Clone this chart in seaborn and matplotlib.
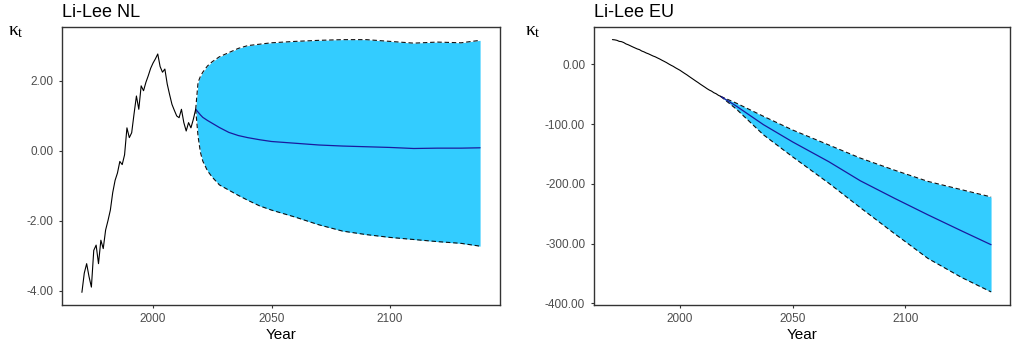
import numpy as np
import pandas as pd
import matplotlib
matplotlib.use("Agg")
import matplotlib.pyplot as plt
import seaborn as sns

# ---------------- data ----------------
hist_years = list(range(1970, 2019))

nl_hist = [-4.05, -3.50, -3.23, -3.60, -3.90, -2.85, -2.70, -3.23, -2.56, -2.80,
           -2.27, -2.00, -1.70, -1.20, -0.85, -0.64, -0.31, -0.40, -0.12, 0.65,
           0.37, 0.51, 1.05, 1.56, 1.18, 1.85, 1.71, 1.95, 2.14, 2.35,
           2.50, 2.62, 2.76, 2.40, 2.24, 2.33, 1.90, 1.60, 1.32, 1.15,
           0.99, 0.94, 1.18, 0.80, 0.56, 0.80, 0.65, 0.89, 1.18]

nl_fc_years = [2018, 2019, 2020, 2021, 2023, 2025, 2028, 2032, 2036, 2040, 2045,
               2050, 2060, 2070, 2080, 2090, 2100, 2110, 2120, 2130, 2138]
nl_fc_mean = [1.18, 1.10, 1.02, 0.95, 0.86, 0.78, 0.66, 0.52, 0.43, 0.37, 0.31,
              0.26, 0.21, 0.16, 0.13, 0.11, 0.09, 0.06, 0.07, 0.07, 0.08]
nl_fc_upper = [1.18, 1.95, 2.12, 2.24, 2.42, 2.54, 2.68, 2.80, 2.92, 3.00, 3.04,
               3.08, 3.12, 3.15, 3.17, 3.17, 3.12, 3.07, 3.10, 3.08, 3.15]
nl_fc_lower = [1.18, 0.41, -0.05, -0.30, -0.58, -0.76, -0.98, -1.13, -1.28, -1.42, -1.58,
               -1.70, -1.90, -2.12, -2.30, -2.40, -2.48, -2.54, -2.60, -2.65, -2.73]

eu_hist = [41.4, 41.0, 40.2, 38.5, 38.0, 36.5, 34.2, 32.8, 31.0, 29.2,
           27.5, 25.8, 24.6, 22.3, 20.9, 19.0, 17.6, 15.8, 14.0, 12.6,
           10.7, 8.9, 6.8, 4.9, 2.9, 0.6, -1.5, -3.4, -5.8, -7.9,
           -10.0, -12.6, -15.1, -17.5, -20.2, -22.8, -25.4, -28.0, -30.5, -33.2,
           -35.7, -38.2, -40.8, -43.1, -44.9, -47.5, -49.2, -51.8, -53.6]

eu_fc_years = [2018, 2025, 2037, 2050, 2066, 2080, 2095, 2110, 2125, 2138]
eu_fc_mean = [-53.6, -70, -101, -130, -163, -195, -224, -252, -279, -302]
eu_fc_upper = [-53.6, -65, -87, -110, -135, -157, -177, -196, -210, -222]
eu_fc_lower = [-53.6, -75, -118, -155, -199, -240, -283, -325, -357, -381]

panels = [
    ("Li-Lee NL", nl_hist, nl_fc_years, nl_fc_mean, nl_fc_lower, nl_fc_upper,
     [-4, -2, 0, 2]),
    ("Li-Lee EU", eu_hist, eu_fc_years, eu_fc_mean, eu_fc_lower, eu_fc_upper,
     [-400, -300, -200, -100, 0]),
]

# ---------------- style ----------------
sns.set_theme(style="white")
plt.rcParams["font.family"] = ["Liberation Sans", "DejaVu Sans"]
plt.rcParams["mathtext.fontset"] = "custom"
plt.rcParams["mathtext.rm"] = "Liberation Serif"
plt.rcParams["mathtext.it"] = "Liberation Serif"

W, H = 1014, 349
fig = plt.figure(figsize=(W / 100, H / 100), dpi=100)
rects = [(62, 27, 500, 305), (593.5, 27, 1010, 304.5)]
klabel_x = [8, 525]

FILL = "#33CCFF"
GREY = "#4D4D4D"

for (title, hist, fy, fm, fl, fu, yticks), (x0, y0, x1, y1), kx in zip(panels, rects, klabel_x):
    ax = fig.add_axes([x0 / W, 1 - y1 / H, (x1 - x0) / W, (y1 - y0) / H])
    hdf = pd.DataFrame({"Year": hist_years, "kt": hist})
    fdf = pd.DataFrame({"Year": fy, "mean": fm, "lower": fl, "upper": fu})

    ax.fill_between(fdf["Year"], fdf["lower"], fdf["upper"], color=FILL, lw=0, zorder=1)
    sns.lineplot(data=fdf, x="Year", y="upper", ax=ax, color="#111111", lw=0.8,
                 linestyle=(0, (4, 2.5)), zorder=2)
    sns.lineplot(data=fdf, x="Year", y="lower", ax=ax, color="#111111", lw=0.8,
                 linestyle=(0, (4, 2.5)), zorder=2)
    sns.lineplot(data=fdf, x="Year", y="mean", ax=ax, color="#1A1A9E", lw=0.9, zorder=3)
    sns.lineplot(data=hdf, x="Year", y="kt", ax=ax, color="black", lw=0.8, zorder=3)

    xmin, xmax = hist_years[0], fy[-1]
    xp = 0.05 * (xmax - xmin)
    ax.set_xlim(xmin - xp, xmax + xp)
    ymin = min(min(hist), min(fl))
    ymax = max(max(hist), max(fu))
    yp = 0.05 * (ymax - ymin)
    ax.set_ylim(ymin - yp, ymax + yp)

    ax.set_xticks([2000, 2050, 2100])
    ax.set_yticks(yticks)
    ax.set_yticklabels([f"{v:.2f}" for v in yticks])
    ax.tick_params(axis="both", which="both", direction="out", length=2.5, width=0.8,
                   color="#333333", labelsize=8.5, labelcolor=GREY, pad=3.5,
                   bottom=True, left=True)
    for s in ax.spines.values():
        s.set_color("#333333")
        s.set_linewidth(1.0)
        s.set_visible(True)
    ax.grid(False)
    ax.set_ylabel("")
    ax.set_xlabel("Year", fontsize=11, color="black", labelpad=2)
    ax.set_title(title, loc="left", fontsize=13, color="black", pad=7)

    fig.text(kx / W, 1 - 35 / H, r"$\mathrm{κ}_{\mathrm{t}}$", fontsize=14,
             va="baseline", ha="left", color="black")

fig.savefig("out.png", dpi=100)
